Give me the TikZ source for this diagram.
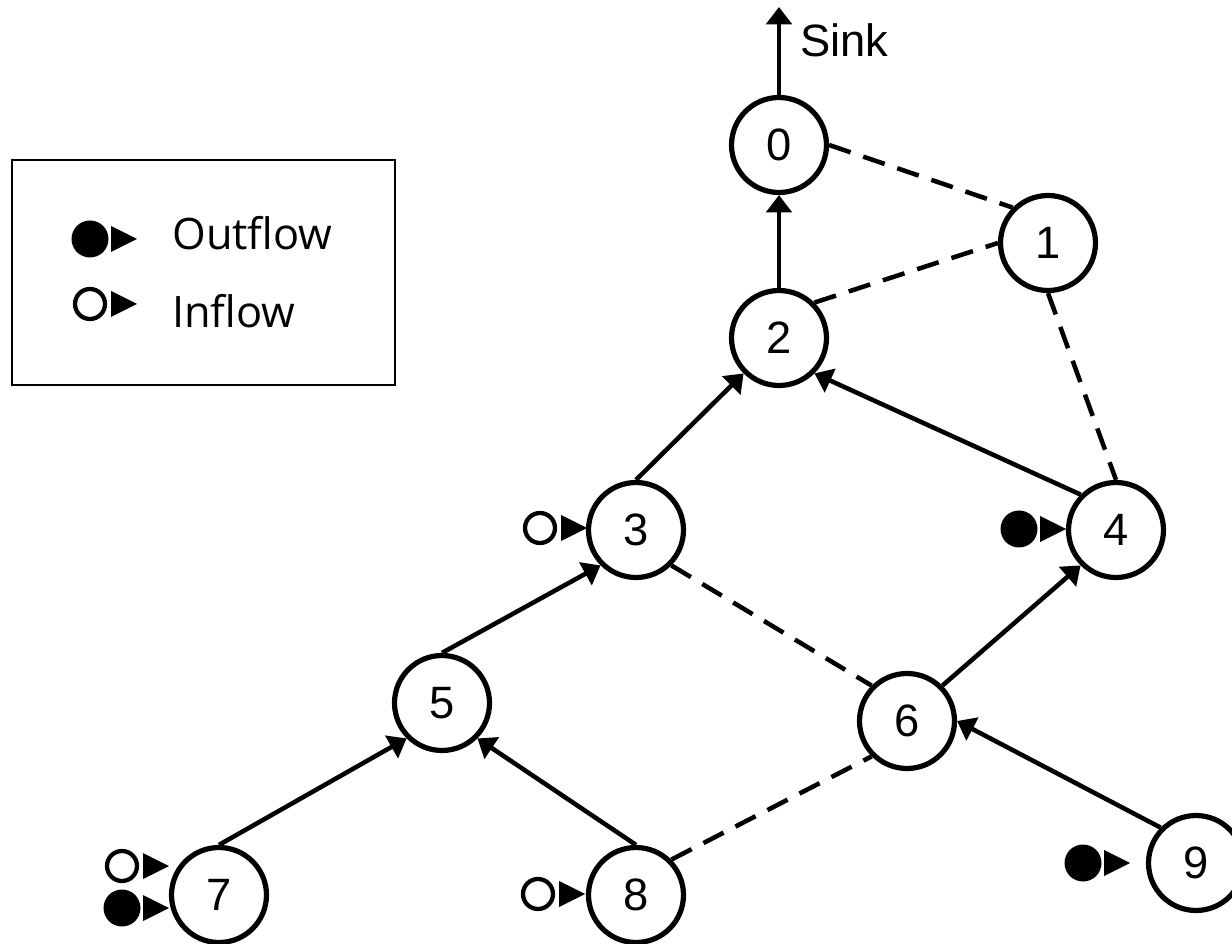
\documentclass[tikz,border=0pt]{standalone}
\usepackage{fontspec}
\setmainfont{Liberation Sans}
\newfontfamily\legfont{Open Sans}
\usetikzlibrary{arrows.meta}
\tikzset{
  vtx/.style={circle, draw, line width=3.9pt, minimum size=71.25pt, inner sep=0pt, font=\fontsize{34}{40}\selectfont},
  flow/.style={line width=3.4pt, -{Triangle[length=13pt,width=19pt]}},
  link/.style={line width=3.4pt, dash pattern=on 17pt off 10pt},
  legtext/.style={anchor=base west, inner sep=0pt, font=\legfont\fontsize{32.5}{36}\selectfont},
  inmark/.pic={\draw[line width=3.2pt] (0,0) circle (15); \fill (21,-13) -- (21,13) -- (47,0) -- cycle;},
  outmark/.pic={\fill (0,0) circle (18.5); \fill (21,-13) -- (21,13) -- (47,0) -- cycle;}
}
\begin{document}
\begin{tikzpicture}[x=0.75pt,y=-0.75pt]
\useasboundingbox (0,0) rectangle (1232,944);

% legend
\draw[line width=1.6pt] (12,160) rectangle (395,385);
\pic at (90,239) {outmark};
\pic at (90,304) {inmark};
\node[legtext] (lout) at (172,250) {Outflow};
\node[legtext] (lin) at (172,328) {Inflow};

% nodes
\node[vtx] (n0) at (779,145) {0};
\node[vtx] (n1) at (1048,243) {1};
\node[vtx] (n2) at (779,338) {2};
\node[vtx] (n3) at (636,530) {3};
\node[vtx] (n4) at (1116,530) {4};
\node[vtx] (n5) at (442,703) {5};
\node[vtx] (n6) at (907,721) {6};
\node[vtx] (n7) at (219,895) {7};
\node[vtx] (n8) at (636,895) {8};
\node[vtx] (n9) at (1196,863) {9};

% sink
\coordinate (sink) at (779,7);
\draw[flow] (n0.north) -- (sink);
\node[anchor=base west, inner sep=0pt, font=\fontsize{34}{40}\selectfont] (sinklabel) at (800,57) {Sink};

% directed edges
\draw[flow] (n2.north) -- (n0.south);
\draw[flow] (n3.north) -- (n2.south west);
\draw[flow] (n4.north west) -- (n2.south east);
\draw[flow] (n5.north) -- (n3.south west);
\draw[flow] (n6.north east) -- (n4.south west);
\draw[flow] (n7.north) -- (n5.south west);
\draw[flow] (n8.north) -- (n5.south east);
\draw[flow] (n9.north west) -- (n6.east);

% dashed links
\draw[link] (n0.east) -- (n1.north west);
\draw[link] (n2.north east) -- (n1.west);
\draw[link] (n1.south) -- (n4.north);
\draw[link] (n3.south east) -- (n6.north west);
\draw[link] (n8.north east) -- (n6.south west);

% flow markers
\pic at (540,528) {inmark};
\pic at (1019,529) {outmark};
\pic at (122,866) {inmark};
\pic at (122,908) {outmark};
\pic at (538,894) {inmark};
\pic at (1083,863) {outmark};
\end{tikzpicture}
\end{document}
